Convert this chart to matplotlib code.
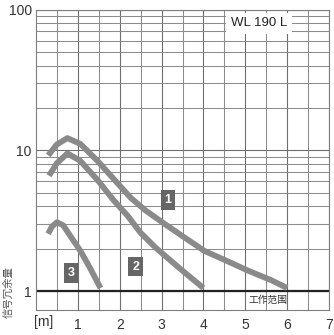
import matplotlib
matplotlib.use("Agg")
import matplotlib.pyplot as plt
from matplotlib.ticker import FixedLocator, NullFormatter

plt.rcParams['font.family'] = ['Liberation Sans', 'Noto Sans CJK SC', 'DejaVu Sans']

# Signal margin curves over operating distance (m)
dist_1 = [0.29, 0.50, 0.75, 1.06, 1.47, 1.90, 2.26, 2.62, 3.05, 3.46, 4.02, 4.59, 5.08, 5.63, 6.00]
margin_1 = [9.2, 11.0, 12.2, 11.1, 8.4, 6.05, 4.6, 3.73, 3.03, 2.5, 1.93, 1.62, 1.39, 1.19, 1.05]

dist_2 = [0.31, 0.50, 0.75, 1.06, 1.47, 1.85, 2.19, 2.50, 2.86, 3.15, 3.53, 4.00]
margin_2 = [6.6, 8.1, 9.5, 8.4, 6.15, 4.43, 3.42, 2.59, 2.03, 1.71, 1.37, 1.05]

dist_3 = [0.29, 0.38, 0.50, 0.65, 0.82, 1.06, 1.30, 1.54]
margin_3 = [2.55, 2.87, 3.08, 2.93, 2.46, 1.93, 1.44, 1.05]

curve_labels = ["1", "2", "3"]
label_pos = [(3.15, 4.43), (2.38, 1.49), (0.84, 1.34)]

x_ticks = [1, 2, 3, 4, 5, 6, 7]
y_ticks = [1, 10, 100]
y_tick_labels = ["1", "10", "100"]

model = "WL 190 L"
y_title = "信号冗余量"
range_title = "工作范围"
unit = "[m]"

fig = plt.figure(figsize=(3.34, 3.35), dpi=100)
ax = fig.add_axes([36 / 334, 25 / 335, 293 / 334, 300.5 / 335])
ax.set_yscale('log')
ax.set_xlim(0, 7)
ax.set_ylim(0.733, 100)

ax.set_xticks(x_ticks)
ax.xaxis.set_minor_locator(FixedLocator([i + 0.5 for i in range(7)]))
ax.set_yticks(y_ticks)
ax.set_yticklabels(y_tick_labels)
ax.yaxis.set_minor_locator(FixedLocator([2, 3, 4, 5, 6, 7, 8, 9, 20, 30, 40, 50, 60, 70, 80, 90]))
ax.yaxis.set_minor_formatter(NullFormatter())
ax.tick_params(which='both', length=0, labelsize=10, colors='#333333')
ax.tick_params(axis='y', pad=3)
ax.tick_params(axis='x', pad=6)
ax.grid(True, which='major', color='#6e6e6e', linewidth=0.8)
ax.grid(True, which='minor', color='#8c8c8c', linewidth=0.75)
ax.set_axisbelow(True)
for s in ax.spines.values():
    s.set_color('#7d7d7d')
    s.set_linewidth(0.8)

# threshold line at margin 1
ax.axhline(1, color='#222222', linewidth=1.6, zorder=2)

curve_color = '#8a8a8a'
for d, m in [(dist_1, margin_1), (dist_2, margin_2), (dist_3, margin_3)]:
    ax.plot(d, m, color=curve_color, linewidth=4.2, solid_capstyle='butt',
            solid_joinstyle='round', zorder=3)

for lab, (lx, ly) in zip(curve_labels, label_pos):
    ax.text(lx, ly, lab, ha='center', va='center', fontsize=9, color='white',
            fontweight='bold', zorder=4,
            bbox=dict(boxstyle='square,pad=0.3', fc='#666666', ec='none'))

ax.text(0.761, 0.954, model, transform=ax.transAxes, ha='center', va='center',
        fontsize=9.5, color='#222222', zorder=4,
        bbox=dict(boxstyle='square,pad=0.35', fc='white', ec='none'))

ax.text(0.792, 0.033, range_title, transform=ax.transAxes, ha='center', va='center',
        fontsize=7, color='#333333', family=['Noto Sans CJK SC', 'DejaVu Sans'], zorder=4)

ax.text(0.027, -0.04, unit, transform=ax.transAxes, ha='center', va='center',
        fontsize=10, color='#333333')

fig.text(8 / 334, 1 - 292 / 335, y_title, rotation=90, ha='center', va='center',
         fontsize=7.5, color='#555555', family=['Noto Sans CJK SC', 'DejaVu Sans'])

fig.savefig('out.png', dpi=100, facecolor='white')
